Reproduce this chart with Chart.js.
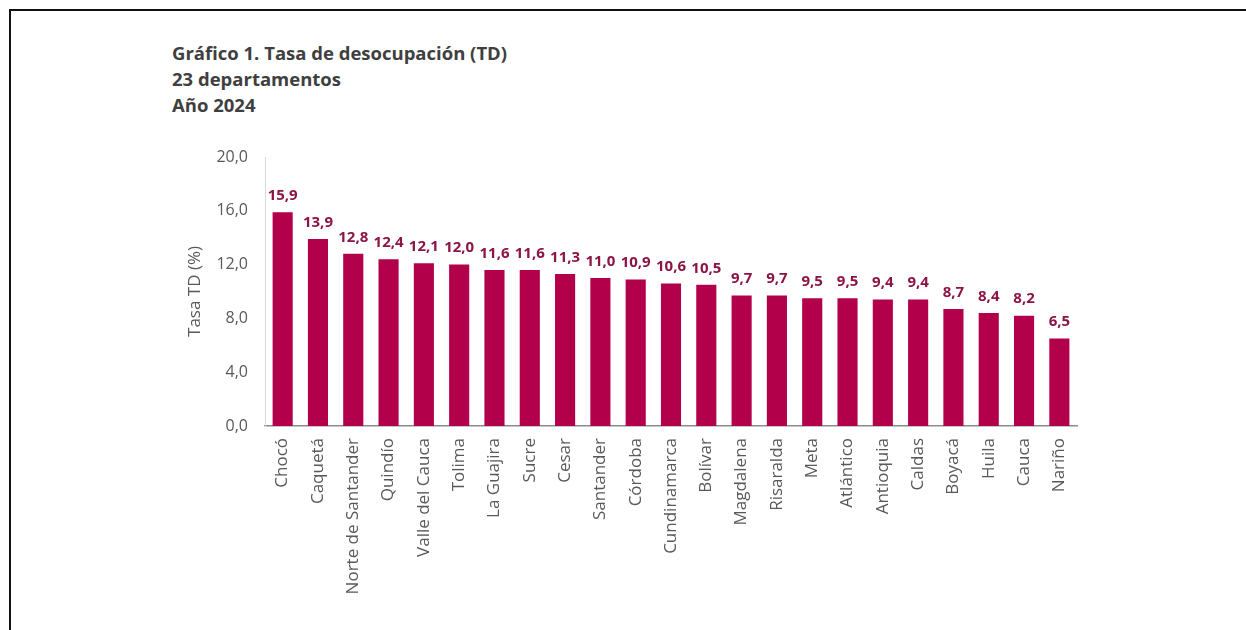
<!DOCTYPE html>
<html lang="es">
<head>
<meta charset="utf-8">
<title>Tasa de desocupación 2024</title>
<script src="https://cdn.jsdelivr.net/npm/chart.js@4.4.1/dist/chart.umd.min.js"></script>
<style>
  html, body { margin: 0; padding: 0; background: #fff; }
  #page { position: relative; width: 1246px; height: 630px; overflow: hidden; font-family: "Open Sans", sans-serif; }
  #frame { position: absolute; left: 9px; top: 9px; right: -4px; bottom: -4px; border-left: 2px solid #111; border-top: 2px solid #111; }
  #titulo { position: absolute; left: 172px; top: 40px; color: #3f3f3f; font-weight: bold; font-size: 18.5px; line-height: 26px; }
  #grafico { position: absolute; left: 0; top: 0; }
</style>
</head>
<body>
<div id="page">
  <div id="frame"></div>
  <div id="titulo">
    <div>Gráfico 1. Tasa de desocupación (TD)</div>
    <div>23 departamentos</div>
    <div>Año 2024</div>
  </div>
  <canvas id="grafico" width="1246" height="630"></canvas>
</div>
<script>
const departamentos = ['Chocó', 'Caquetá', 'Norte de Santander', 'Quindío', 'Valle del Cauca', 'Tolima',
  'La Guajira', 'Sucre', 'Cesar', 'Santander', 'Córdoba', 'Cundinamarca', 'Bolívar', 'Magdalena',
  'Risaralda', 'Meta', 'Atlántico', 'Antioquia', 'Caldas', 'Boyacá', 'Huila', 'Cauca', 'Nariño'];
const tasaTD = [15.9, 13.9, 12.8, 12.4, 12.1, 12.0, 11.6, 11.6, 11.3, 11.0, 10.9, 10.6, 10.5, 9.7,
  9.7, 9.5, 9.5, 9.4, 9.4, 8.7, 8.4, 8.2, 6.5];
const ticksY = [0, 4, 8, 12, 16, 20];

const fmt = v => v.toFixed(1).replace('.', ',');
const fuente = '"Open Sans", sans-serif';

// etiquetas de valor encima de cada barra
const etiquetasBarras = {
  id: 'etiquetasBarras',
  afterDatasetsDraw(chart) {
    const ctx = chart.ctx;
    const meta = chart.getDatasetMeta(0);
    ctx.save();
    ctx.font = 'bold 15px ' + fuente;
    ctx.fillStyle = '#8c1446';
    ctx.textAlign = 'center';
    ctx.textBaseline = 'bottom';
    meta.data.forEach((bar, i) => {
      ctx.fillText(fmt(tasaTD[i]), bar.x, bar.y - 9);
    });
    ctx.restore();
  }
};

const ctx = document.getElementById('grafico').getContext('2d');
new Chart(ctx, {
  type: 'bar',
  data: {
    labels: departamentos,
    datasets: [{ label: 'Tasa TD', data: tasaTD, backgroundColor: '#b3004b', barPercentage: 0.57, categoryPercentage: 1 }]
  },
  options: {
    responsive: false,
    animation: false,
    layout: { padding: { left: 185, right: 169, top: 157, bottom: 0 } },
    plugins: { legend: { display: false }, tooltip: { enabled: false } },
    scales: {
      x: {
        grid: { display: false, drawTicks: false },
        border: { color: '#8c8c8c', width: 1.5 },
        ticks: { color: '#595959', font: { size: 17, family: fuente }, minRotation: 90, maxRotation: 90, padding: 12, autoSkip: false },
        afterFit(s) { s.height = 204; }
      },
      y: {
        min: 0, max: 20,
        afterBuildTicks(s) { s.ticks = ticksY.map(v => ({ value: v })); },
        grid: { display: false, drawTicks: false },
        border: { color: '#d9d9d9', width: 1 },
        ticks: { color: '#595959', font: { size: 16, family: fuente }, padding: 17, callback: v => fmt(v) },
        title: { display: true, text: 'Tasa TD (%)', color: '#595959', font: { size: 17, family: fuente }, padding: 0 },
        afterFit(s) { s.width = 80; }
      }
    }
  },
  plugins: [etiquetasBarras]
});
</script>
</body>
</html>
